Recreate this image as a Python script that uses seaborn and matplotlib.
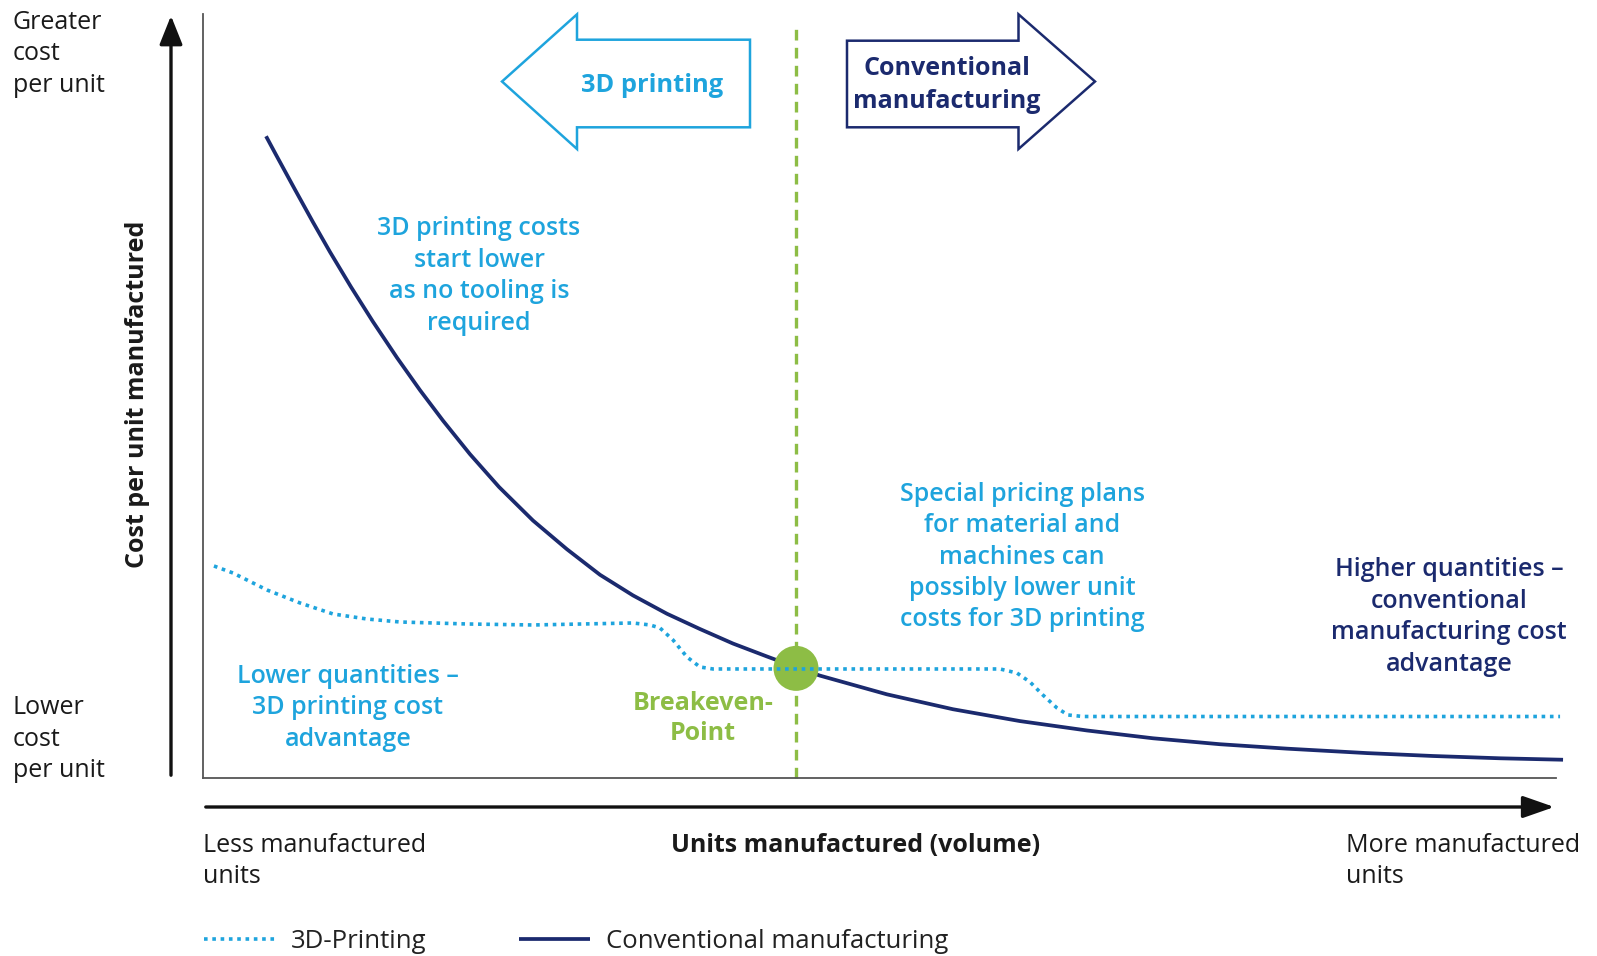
import matplotlib
matplotlib.use("Agg")
import matplotlib.pyplot as plt
from matplotlib.patches import Polygon, FancyArrowPatch
import seaborn as sns
import pandas as pd

# ---------------- data (x: 0-100 volume, y: 0-100 cost) ----
conv_x = [4.66, 5.40, 6.80, 8.13, 9.39, 10.94, 12.56, 14.34, 16.04, 17.74, 19.73,
          21.88, 24.39, 26.90, 29.34, 31.78, 34.29, 36.73, 39.17, 41.69, 44.12,
          45.60, 50.55, 55.43, 60.38, 65.34, 70.21, 75.17, 80.12, 86.03, 90.91,
          95.86, 100.52]
conv_y = [84.0, 81.56, 77.01, 72.75, 68.84, 64.27, 59.73, 55.01, 50.76, 46.77, 42.39,
          38.09, 33.70, 29.94, 26.6, 23.9, 21.5, 19.5, 17.6, 15.9, 14.3,
          13.4, 10.95, 9.0, 7.45, 6.22, 5.2, 4.42, 3.84, 3.26, 2.88,
          2.58, 2.39]

print_x = [0.81, 2.22, 4.73, 7.17, 9.61, 12.12, 14.56, 19.51, 24.39, 31.78, 33.04,
           33.78, 34.74, 35.77, 36.73, 37.69, 58.91, 60.16, 61.12, 62.08, 63.12,
           63.93, 65.04, 100.30]
print_y = [27.75, 26.83, 24.61, 22.91, 21.47, 20.81, 20.42, 20.16, 20.03, 20.29, 20.03,
           19.63, 18.06, 15.84, 14.53, 14.27, 14.27, 13.74, 12.57, 10.86, 9.16,
           8.25, 8.05, 8.05]

series_names = ["3D-Printing", "Conventional manufacturing"]
breakeven_x = [43.83]
breakeven_y = [14.35]

# ---------------- style ----------------
LBLUE = "#1ea4dd"
NAVY = "#1b2a6e"
GREEN = "#8dbd45"
W, H = 1597, 956

sns.set_theme(style="white")
plt.rcParams["font.family"] = ["Open Sans", "DejaVu Sans"]

fig = plt.figure(figsize=(W / 100, H / 100), dpi=100)
fig.patch.set_facecolor("white")


def fx(px):
    return px / W


def fy(py):
    return 1 - py / H


ax = fig.add_axes([fx(203), fy(778), fx(1556) - fx(203), fy(14) - fy(778)])
ax.set_xlim(0, 100)
ax.set_ylim(0, 100)
ax.set_xticks([])
ax.set_yticks([])
for s in ["top", "right"]:
    ax.spines[s].set_visible(False)
for s in ["left", "bottom"]:
    ax.spines[s].set_color("#555555")
    ax.spines[s].set_linewidth(1.3)

df = pd.concat([
    pd.DataFrame({"units": print_x, "cost": print_y, "method": series_names[0]}),
    pd.DataFrame({"units": conv_x, "cost": conv_y, "method": series_names[1]}),
])

sns.lineplot(data=df[df.method == series_names[0]], x="units", y="cost",
             color=LBLUE, linewidth=2.6, linestyle=(0, (1, 1.3)), sort=False,
             label=series_names[0], ax=ax, clip_on=False, zorder=3)
sns.lineplot(data=df[df.method == series_names[1]], x="units", y="cost",
             color=NAVY, linewidth=2.7, sort=False, solid_capstyle="butt",
             solid_joinstyle="round",
             label=series_names[1], ax=ax, clip_on=False, zorder=2)
ax.set_xlabel("")
ax.set_ylabel("")

# breakeven vertical line and point
ax.plot([breakeven_x[0], breakeven_x[0]], [0, 98.9], color=GREEN, lw=2.4,
        linestyle=(0, (3.2, 2.2)), zorder=1, clip_on=False)
sns.scatterplot(x=breakeven_x, y=breakeven_y, s=1050, color=GREEN,
                edgecolor="none", ax=ax, zorder=2.5, legend=False)

# legend
handles, labels = ax.get_legend_handles_labels()
if ax.get_legend():
    ax.get_legend().remove()
leg = fig.legend(handles, labels, loc="center left",
                 bbox_to_anchor=(fx(204), fy(941)), ncol=2, frameon=False,
                 fontsize=18.5, handlelength=2.75, handletextpad=0.63,
                 columnspacing=3.6, borderaxespad=0, borderpad=0)
for t in leg.get_texts():
    t.set_color("#222222")

# ---------------- outer axis arrows ----------------
fig.add_artist(FancyArrowPatch(
    (fx(171), fy(778)), (fx(171), fy(13)), transform=fig.transFigure,
    arrowstyle="-|>,head_length=11,head_width=4.4", mutation_scale=1.6,
    color="#111111", lw=2.4))
fig.add_artist(FancyArrowPatch(
    (fx(203), fy(807)), (fx(1557), fy(807)), transform=fig.transFigure,
    arrowstyle="-|>,head_length=12,head_width=4.2", mutation_scale=1.6,
    color="#111111", lw=2.4))

# ---------------- block arrows ----------------
left_arrow = [(502, 81.5), (577, 14.3), (577, 39.7), (750, 39.7), (750, 127.3),
              (577, 127.3), (577, 149), (502, 81.5)]
right_arrow = [(847, 40.7), (1018.5, 40.7), (1018.5, 14.3), (1095, 81.5),
               (1018.5, 149), (1018.5, 127.3), (847, 127.3), (847, 40.7)]
fig.add_artist(Polygon([(fx(a), fy(b)) for a, b in left_arrow], closed=True,
                       fill=False, edgecolor=LBLUE, lw=1.8,
                       transform=fig.transFigure, joinstyle="miter"))
fig.add_artist(Polygon([(fx(a), fy(b)) for a, b in right_arrow], closed=True,
                       fill=False, edgecolor=NAVY, lw=1.8,
                       transform=fig.transFigure, joinstyle="miter"))

FS = 18
LS = 1.38


def txt(px, py, s, color="#1a1a1a", ha="center", weight="normal", **kw):
    fig.text(fx(px), fy(py), s, color=color, ha=ha, va="center",
             fontsize=kw.pop("fontsize", FS), fontweight=weight,
             linespacing=kw.pop("linespacing", LS), **kw)


txt(652, 85.5, "3D printing", color=LBLUE, weight="bold", fontsize=18.3)
txt(947, 85, "Conventional\nmanufacturing", color=NAVY, weight="bold",
    linespacing=1.41)

txt(13, 54, "Greater\ncost\nper unit", ha="left", linespacing=1.36)
txt(13, 739, "Lower\ncost\nper unit", ha="left", linespacing=1.36)
txt(137, 394, "Cost per unit manufactured", weight="bold", rotation=90)

txt(203, 861, "Less manufactured\nunits", ha="left", linespacing=1.34)
txt(856, 845, "Units manufactured (volume)", weight="bold")
txt(1346, 861, "More manufactured\nunits", ha="left", linespacing=1.34)

LA = 1.335
txt(479, 276, "3D printing costs\nstart lower\nas no tooling is\nrequired",
    color=LBLUE, weight="semibold", linespacing=LA)
txt(1022, 557, "Special pricing plans\nfor material and\nmachines can\npossibly lower unit\ncosts for 3D printing",
    color=LBLUE, weight="semibold", linespacing=LA)
txt(1449, 617, "Higher quantities –\nconventional\nmanufacturing cost\nadvantage",
    color=NAVY, weight="semibold", linespacing=LA)
txt(348, 708, "Lower quantities –\n3D printing cost\nadvantage",
    color=LBLUE, weight="semibold", linespacing=LA)
txt(703, 718.5, "Breakeven-\nPoint", color=GREEN, weight="bold", linespacing=1.3)

fig.savefig("out.png", dpi=100, facecolor="white")
